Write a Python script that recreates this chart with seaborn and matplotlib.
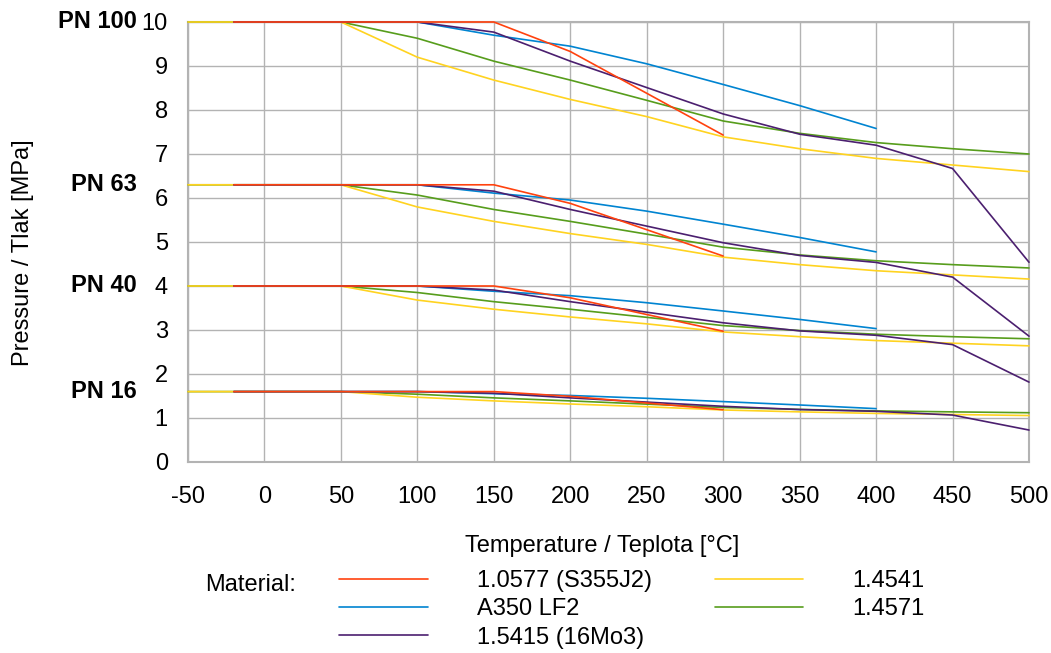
import numpy as np
import pandas as pd
import matplotlib
matplotlib.use("Agg")
import matplotlib.pyplot as plt
from matplotlib.lines import Line2D
import seaborn as sns

# nominal pressures [MPa] and their labels
pn_values = [10.0, 6.3, 4.0, 1.6]
pn_labels = ["PN 100", "PN 63", "PN 40", "PN 16"]

# temperatures [°C] per material
t_10577 = [-20, 50, 100, 150, 200, 250, 300]
t_a350 = [-20, 50, 100, 150, 200, 250, 300, 350, 400]
t_15415 = [-20, 50, 100, 150, 200, 250, 300, 350, 400, 450, 500]
t_14541 = [-50, 50, 100, 150, 200, 250, 300, 350, 400, 450, 500]
t_14571 = [-50, 50, 100, 150, 200, 250, 300, 350, 400, 450, 500]

# allowed pressure as fraction of PN
r_10577 = [1, 1, 1, 1, 0.933, 0.838, 0.743]
r_a350 = [1, 1, 1, 0.97, 0.945, 0.905, 0.858, 0.81, 0.758]
r_15415 = [1, 1, 1, 0.977, 0.911, 0.851, 0.791, 0.745, 0.72, 0.667, 0.454]
r_14541 = [1, 1, 0.92, 0.868, 0.824, 0.785, 0.739, 0.712, 0.69, 0.675, 0.66]
r_14571 = [1, 1, 0.963, 0.911, 0.868, 0.822, 0.775, 0.747, 0.726, 0.712, 0.70]

materials = ["1.0577 (S355J2)", "A350 LF2", "1.5415 (16Mo3)", "1.4541", "1.4571"]
colors = ["#FF420E", "#0084D1", "#4B1F6F", "#FFD320", "#579D1C"]
temps = [t_10577, t_a350, t_15415, t_14541, t_14571]
ratios = [r_10577, r_a350, r_15415, r_14541, r_14571]

rows = []
for m, t, r in zip(materials, temps, ratios):
    for pn in pn_values:
        for ti, ri in zip(t, r):
            rows.append({"material": m, "pn": pn, "temp": ti, "p": ri * pn})
df = pd.DataFrame(rows)

sns.set_style("white")
plt.rcParams["font.family"] = ["Liberation Sans", "DejaVu Sans"]
plt.rcParams["font.size"] = 17
plt.rcParams["text.color"] = "black"
plt.rcParams["axes.labelcolor"] = "black"
plt.rcParams["xtick.color"] = "black"
plt.rcParams["ytick.color"] = "black"
plt.rcParams["axes.unicode_minus"] = False

fig = plt.figure(figsize=(10.51, 6.53), dpi=100)
ax = fig.add_axes([188 / 1051, 1 - 462 / 653, (1029 - 188) / 1051, 440 / 653])

# draw order: stainless first, red on top
draw_order = [4, 3, 1, 2, 0]
for i in draw_order:
    sub = df[df.material == materials[i]]
    sns.lineplot(data=sub, x="temp", y="p", units="pn", estimator=None,
                 color=colors[i], lw=1.2, ax=ax, legend=False, sort=False,
                 clip_on=False, zorder=3)

ax.set_xlim(-50, 500)
ax.set_ylim(0, 10)
ax.set_xticks(np.arange(-50, 501, 50))
ax.set_yticks(np.arange(0, 11, 1))
ax.grid(True, color="#b3b3b3", lw=1)
ax.set_axisbelow(True)
for s in ax.spines.values():
    s.set_color("#b3b3b3")
    s.set_linewidth(1.5)
ax.tick_params(length=8, width=1, color="#b3b3b3", labelsize=17)
ax.tick_params(axis="x", pad=9)
ax.tick_params(axis="y", pad=6.5)

ax.set_xlabel("Temperature / Teplota [°C]", fontsize=17)
ax.set_ylabel("Pressure / Tlak [MPa]", fontsize=17)
ax.xaxis.set_label_coords(0.493, -0.165)
ax.yaxis.set_label_coords(-0.183, 0.475)

# PN labels on the left
for v, lab in zip(pn_values, pn_labels):
    ax.text(-0.061, v, lab, transform=ax.get_yaxis_transform(),
            ha="right", va="center", fontsize=17, fontweight="bold")

# legend
fig.text(205 / 1051, 1 - 585 / 653, "Material:", va="center", fontsize=17)
handles = [Line2D([], [], color=c, lw=1.2) for c in colors]
fig.legend(handles, materials, loc="upper left",
           bbox_to_anchor=(339 / 1051, 1 - 570 / 653), ncol=2, frameon=False,
           fontsize=17, handlelength=3.75, handletextpad=2.08,
           columnspacing=2.67, labelspacing=0.27, borderpad=0, borderaxespad=0)

fig.savefig("out.png", dpi=100)
